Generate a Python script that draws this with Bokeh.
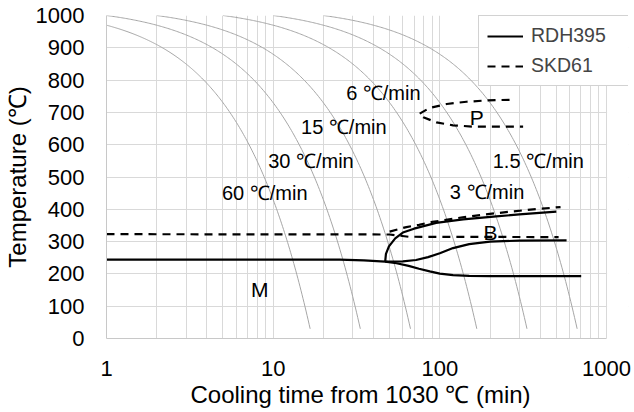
import numpy as np
from bokeh.plotting import figure
from bokeh.models import Range1d, FixedTicker, BasicTickFormatter, Legend, LegendItem, Title
from bokeh.core.properties import value
from bokeh.embed import file_html
from bokeh.resources import INLINE

# ---- data ----
rates = [60, 30, 15, 6, 3, 1.5]          # cooling rates (degC/min)
start_temp = 1030                        # austenitizing temperature
end_temp = 30                            # curves end here

rate_labels = ["60 ℃/min", "30 ℃/min", "15 ℃/min", "6 ℃/min", "3 ℃/min", "1.5 ℃/min"]
rate_label_t = [4.93, 9.33, 14.7, 27.4, 114.8, 207.7]
rate_label_T = [451, 551, 656, 759, 455, 549]

region_labels = ["M", "B", "P"]
region_label_t = [7.35, 183, 151]
region_label_T = [152, 328, 685]

# RDH395 (solid)
rdh_ms_t = [1, 25, 35, 47, 55, 65, 75, 87, 100, 120, 150, 200, 705]
rdh_ms_T = [244, 244, 242, 238, 233, 225, 216, 208, 201, 196, 194, 193, 193]
rdh_bs_t = [47, 47.5, 49.5, 54, 60, 70, 95, 138, 218, 300, 500]
rdh_bs_T = [238, 262, 285, 310, 328, 340, 358, 369, 378, 384, 393]
rdh_bf_t = [47, 60, 72, 85, 100, 120, 150, 200, 300, 576]
rdh_bf_T = [238, 239, 243, 252, 264, 280, 292, 300, 303, 304]

# SKD61 (dashed)
skd_ms_t = [1, 50, 65, 516]
skd_ms_T = [323, 322, 315, 314]
skd_bs_t = [50, 63, 75, 90, 137, 218, 350, 530]
skd_bs_T = [331, 345, 352, 361, 375, 388, 399, 407]
skd_p_t = [262, 190, 144.5, 110, 87, 75, 79.6, 95.5, 120, 158, 316]
skd_p_T = [739, 737, 733, 726, 714, 695, 685, 669, 660, 656, 656]

x_major = [1, 10, 100, 1000]
x_minor = [2, 3, 4, 5, 6, 7, 8, 9, 20, 30, 40, 50, 60, 70, 80, 90,
           200, 300, 400, 500, 600, 700, 800, 900]
y_ticks = list(range(0, 1001, 100))
x_axis_end = 1000
y_axis_end = 1000
x_title = "Cooling time from 1030 ℃ (min)"
y_title = "Temperature (℃)"

FONT = "Liberation Sans"

# frame extends a bit past t=1000 so the legend box (which sticks out to the
# right of the plot area in the reference) is not clipped; the extra strip is masked.
x_view_max = 10 ** (3 * 522 / 500)

p = figure(width=634, height=412, x_axis_type="log",
           x_range=Range1d(1, x_view_max), y_range=Range1d(0, 1000),
           output_backend="svg", toolbar_location=None,
           min_border_left=106, min_border_right=6,
           min_border_top=15, min_border_bottom=74)
p.outline_line_color = None
p.background_fill_color = "white"
p.border_fill_color = "white"

xt = FixedTicker(ticks=x_major, minor_ticks=x_minor)
yt = FixedTicker(ticks=y_ticks)
p.xaxis.ticker = xt
p.xgrid.ticker = xt
p.yaxis.ticker = yt
p.ygrid.ticker = yt
p.xaxis.formatter = BasicTickFormatter(use_scientific=False)
p.xaxis.bounds = (1, x_axis_end)

grid_col = "#d9d9d9"
p.xgrid.grid_line_color = grid_col
p.xgrid.minor_grid_line_color = grid_col
p.ygrid.grid_line_color = grid_col

for ax in (p.xaxis, p.yaxis):
    ax.axis_line_color = "#c8c8c8"
    ax.major_tick_line_color = None
    ax.minor_tick_line_color = None
    ax.major_tick_out = 0
    ax.major_tick_in = 0
    ax.minor_tick_out = 0
    ax.minor_tick_in = 0
    ax.major_label_text_font = FONT
    ax.major_label_text_font_size = "22px"
    ax.major_label_text_color = "black"
    ax.axis_label_text_font = FONT
    ax.axis_label_text_font_size = "24px"
    ax.axis_label_text_font_style = "normal"
    ax.axis_label_text_color = "black"

p.yaxis.axis_label = y_title
p.xaxis.major_label_standoff = 22
p.yaxis.major_label_standoff = 22
p.yaxis.axis_label_standoff = 2

# x-axis title, left-aligned so that it is centred on the t = 1..1000 span
xt_title = Title(text=x_title, align="left", offset=84, standoff=0,
                 text_font=FONT, text_font_size="24px", text_font_style="normal",
                 text_color="black")
p.add_layout(xt_title, "below")

# white mask over the strip right of t = 1000
p.quad(left=[x_axis_end * 1.008], right=[x_view_max * 2], bottom=[-50], top=[y_axis_end + 50],
       fill_color="white", line_color=None)

# cooling curves: T = start_temp - rate * t
xs, ys = [], []
for r in rates:
    t0 = max(1.0, (start_temp - 1000) / r)
    t1 = (start_temp - end_temp) / r
    t = np.geomspace(t0, t1, 200)
    xs.append(list(t))
    ys.append(list(start_temp - r * t))
p.multi_line(xs, ys, line_color="#a6a6a6", line_width=1)

lw = 2.2
r_rdh = p.line(rdh_ms_t, rdh_ms_T, line_color="black", line_width=lw)
p.line(rdh_bs_t, rdh_bs_T, line_color="black", line_width=lw)
p.line(rdh_bf_t, rdh_bf_T, line_color="black", line_width=lw)

dash = "8 6"
r_skd = p.line(skd_ms_t, skd_ms_T, line_color="black", line_width=lw, line_dash=dash)
p.line(skd_bs_t, skd_bs_T, line_color="black", line_width=lw, line_dash=dash)
p.line(skd_p_t, skd_p_T, line_color="black", line_width=lw, line_dash=dash)

p.text(rate_label_t, rate_label_T, text=rate_labels, text_font=value(FONT),
       text_font_size="20px", text_align="left", text_baseline="middle",
       text_color="black")
p.text(region_label_t, region_label_T, text=region_labels, text_font=value(FONT),
       text_font_size="21px", text_align="left", text_baseline="middle",
       text_color="black")

legend = Legend(items=[LegendItem(label="RDH395", renderers=[r_rdh]),
                       LegendItem(label="SKD61", renderers=[r_skd])],
                location=(372, 252))
legend.label_text_font = FONT
legend.label_text_font_size = "19.5px"
legend.glyph_width = 36
legend.glyph_height = 22
legend.label_height = 22
legend.label_width = 89
legend.label_standoff = 8
legend.spacing = 7
legend.padding = 8
legend.margin = 0
legend.border_line_color = "#a6a6a6"
legend.border_line_width = 1
legend.background_fill_alpha = 1
p.add_layout(legend)

open("out.html", "w").write(file_html(p, INLINE))
